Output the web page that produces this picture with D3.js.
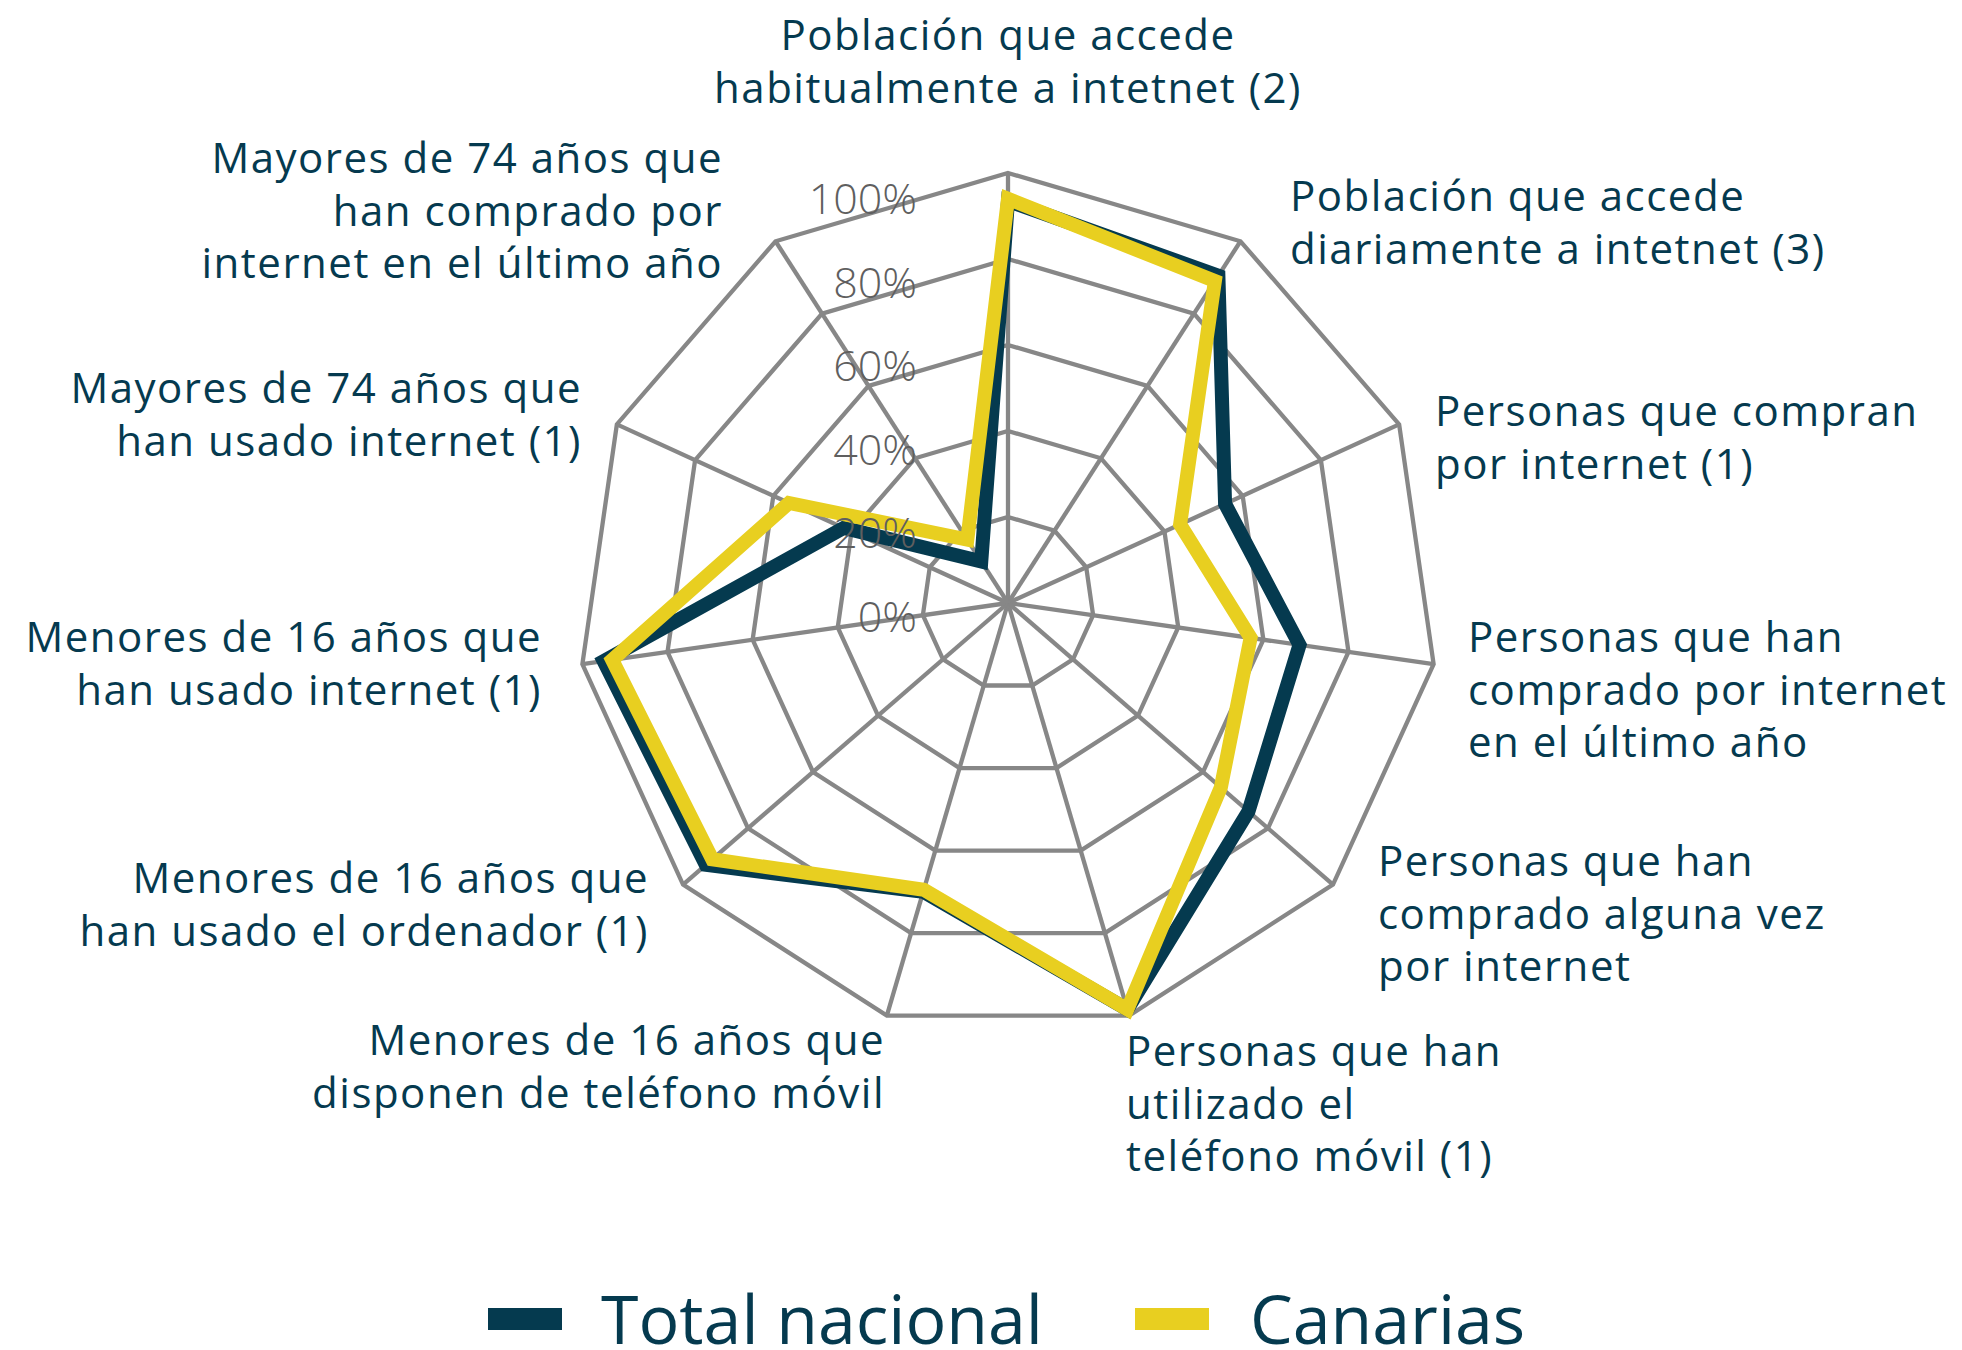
<!DOCTYPE html>
<html><head><meta charset="utf-8">
<script src="https://cdn.jsdelivr.net/npm/d3@7"></script>
<style>
html,body{margin:0;padding:0;background:#fff;}
svg{display:block;}
</style></head>
<body>
<svg id="chart" width="1962" height="1350"></svg>
<script>
// ---- data ----
const categories = [
  ["Población que accede", "habitualmente a intetnet (2)"],
  ["Población que accede", "diariamente a intetnet (3)"],
  ["Personas que compran", "por internet (1)"],
  ["Personas que han", "comprado por internet", "en el último año"],
  ["Personas que han", "comprado alguna vez", "por internet"],
  ["Personas que han", "utilizado el", "teléfono móvil (1)"],
  ["Menores de 16 años que", "disponen de teléfono móvil"],
  ["Menores de 16 años que", "han usado el ordenador (1)"],
  ["Menores de 16 años que", "han usado internet (1)"],
  ["Mayores de 74 años que", "han usado internet (1)"],
  ["Mayores de 74 años que", "han comprado por", "internet en el último año"]
];
const totalNacional = [0.935, 0.905, 0.555, 0.685, 0.74, 0.985, 0.70, 0.93, 0.95, 0.42, 0.115];
const canarias      = [0.94, 0.89, 0.44, 0.57, 0.655, 0.985, 0.695, 0.91, 0.93, 0.56, 0.175];
const tickValues = [0, 0.2, 0.4, 0.6, 0.8, 1.0];
const tickLabels = ["0%", "20%", "40%", "60%", "80%", "100%"];
const seriesNames = ["Total nacional", "Canarias"];

// ---- layout (not data) ----
const cx = 1008, cy = 603, R = 430;
const navy = "#053a4f", yellow = "#e8cf20", grid = "#878787";
const labelLayout = [
  {anchor:"middle", x:1008, y:50},
  {anchor:"start", x:1290, y:211},
  {anchor:"start", x:1435, y:426},
  {anchor:"start", x:1468, y:652},
  {anchor:"start", x:1378, y:876},
  {anchor:"start", x:1126, y:1066},
  {anchor:"end", x:885, y:1055},
  {anchor:"end", x:649, y:893},
  {anchor:"end", x:542, y:652},
  {anchor:"end", x:582, y:403},
  {anchor:"end", x:723, y:173}
];
const lineH = 52.5;

const svg = d3.select("#chart");
const n = categories.length;
const angle = d3.scaleLinear().domain([0, n]).range([0, 2 * Math.PI]);
const r = d3.scaleLinear().domain([0, 1]).range([0, R]);
const g = svg.append("g").attr("transform", `translate(${cx},${cy})`);

const idx = d3.range(n);
const radial = d3.lineRadial().angle((d, i) => angle(i)).radius(d => r(d)).curve(d3.curveLinearClosed);

// rings
g.selectAll("path.ring").data(tickValues.filter(v => v > 0)).join("path")
  .attr("class", "ring")
  .attr("d", v => radial(idx.map(() => v)))
  .attr("fill", "none").attr("stroke", grid).attr("stroke-width", 4.3);

// spokes
g.selectAll("line.spoke").data(idx).join("line")
  .attr("class", "spoke")
  .attr("x1", 0).attr("y1", 0)
  .attr("x2", i => r(1) * Math.sin(angle(i)))
  .attr("y2", i => -r(1) * Math.cos(angle(i)))
  .attr("stroke", grid).attr("stroke-width", 4.3);

// series
const series = [{name: seriesNames[0], values: totalNacional, color: navy},
                {name: seriesNames[1], values: canarias, color: yellow}];
g.selectAll("path.series").data(series).join("path")
  .attr("class", "series")
  .attr("d", s => radial(s.values))
  .attr("fill", "none").attr("stroke", s => s.color)
  .attr("stroke-width", 14).attr("stroke-linejoin", "miter").attr("stroke-miterlimit", 10);

// tick labels
const tickBase = d3.scaleLinear().domain([0, 1]).range([632, 214]);
svg.append("g").selectAll("text").data(tickValues).join("text")
  .attr("x", cx - 91)
  .attr("y", v => tickBase(v))
  .attr("text-anchor", "end")
  .attr("font-family", "'Open Sans', sans-serif")
  .attr("font-weight", 300)
  .attr("font-size", 43)
  .attr("fill", "#5f5f5f")
  .text((v, i) => tickLabels[i]);

// category labels
const lab = svg.append("g")
  .attr("font-family", "'Open Sans', sans-serif")
  .attr("font-size", 42)
  .attr("letter-spacing", "1.5px")
  .attr("fill", navy);
categories.forEach((lines, i) => {
  const L = labelLayout[i];
  const t = lab.append("text").attr("text-anchor", L.anchor);
  lines.forEach((s, j) => {
    t.append("tspan").attr("x", L.x).attr("y", L.y + j * lineH).text(s);
  });
});

// legend
const legend = svg.append("g").attr("font-family", "'Open Sans', sans-serif").attr("font-size", 68).attr("fill", navy);
const legX = [488, 1135], legTextX = [601, 1250];
series.forEach((s, i) => {
  legend.append("rect").attr("x", legX[i]).attr("y", 1308).attr("width", 74).attr("height", 22).attr("fill", s.color);
  legend.append("text").attr("x", legTextX[i]).attr("y", 1344).text(s.name);
});
</script>
</body></html>
